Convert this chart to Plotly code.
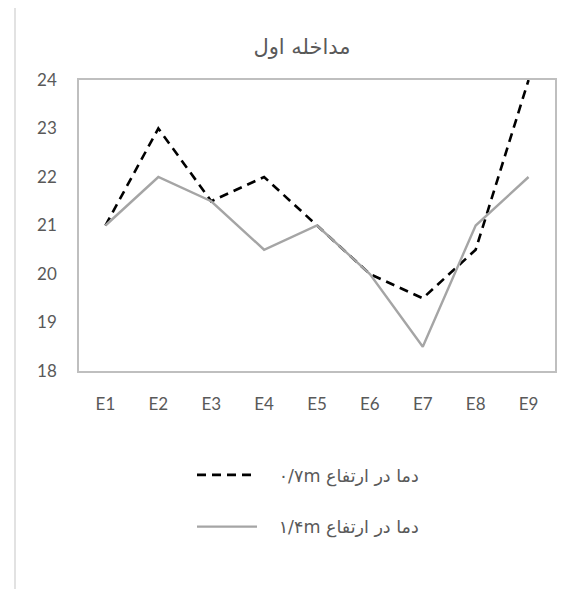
import plotly.graph_objects as go

categories = ["E1", "E2", "E3", "E4", "E5", "E6", "E7", "E8", "E9"]
temp_07m = [21, 23, 21.5, 22, 21, 20, 19.5, 20.5, 24]
temp_14m = [21, 22, 21.5, 20.5, 21, 20, 18.5, 21, 22]
name_07m = "\u00a0\u00a0\u00a0\u202Bدما در ارتفاع ۰/۷m\u202C"
name_14m = "\u00a0\u00a0\u00a0\u202Bدما در ارتفاع ۱/۴m\u202C"
title_text = "مداخله اول"

OFF = 8  # page body margin
W, H = 583 - OFF, 589 - OFF
# plot area pixel box in window coordinates, converted to figure coordinates
L, R, T, B = 79 - OFF, 555 - OFF, 80 - OFF, 371 - OFF

fig = go.Figure()
fig.add_trace(go.Scatter(x=categories, y=temp_07m, mode="lines", name=name_07m,
                         legendgroup="a",
                         line=dict(color="#000000", width=2.6, dash="9px,6px")))
fig.add_trace(go.Scatter(x=categories, y=temp_14m, mode="lines", name=name_14m,
                         legendgroup="b",
                         line=dict(color="#A5A5A5", width=2.4)))

def px_x(p):
    return (p - OFF - L) / (R - L)

def px_y(p):
    return (B - (p - OFF)) / (B - T)

border = "#D9D9D9"
fig.add_shape(type="line", xref="paper", yref="paper",
              x0=px_x(15), x1=px_x(15), y0=px_y(4), y1=px_y(600),
              line=dict(color=border, width=1.5))
fig.add_shape(type="line", xref="paper", yref="paper",
              x0=px_x(15), x1=px_x(600), y0=px_y(4), y1=px_y(4),
              line=dict(color=border, width=1.5))

tick_font = dict(family="Lato, Open Sans, sans-serif", size=17, color="#595959")
fig.update_layout(
    width=W, height=H,
    margin=dict(l=L, r=W - R, t=T, b=H - B, pad=0),
    paper_bgcolor="white", plot_bgcolor="white",
    title=dict(text=title_text, x=(302 - OFF) / W, xanchor="center",
               y=1 - (47 - OFF) / H, yanchor="middle",
               font=dict(family="DejaVu Sans, sans-serif", size=21, color="#595959")),
    xaxis=dict(type="category", range=[-0.5, 8.5], showgrid=False, zeroline=False,
               showline=True, linecolor="#BFBFBF", linewidth=1.5, mirror=True,
               ticks="", tickfont=tick_font, ticklabelstandoff=17),
    yaxis=dict(range=[18, 24], dtick=1, showgrid=False, zeroline=False,
               showline=True, linecolor="#BFBFBF", linewidth=1.5, mirror=True,
               ticks="", tickfont=tick_font, ticklabelstandoff=17),
    showlegend=True,
    legend=dict(orientation="v", x=px_x(192), xanchor="left", y=px_y(457), yanchor="top",
                font=dict(family="DejaVu Sans, sans-serif", size=17.5, color="#595959"),
                tracegroupgap=26, itemwidth=60, bgcolor="rgba(0,0,0,0)"),
)

fig.write_html("out.html")
